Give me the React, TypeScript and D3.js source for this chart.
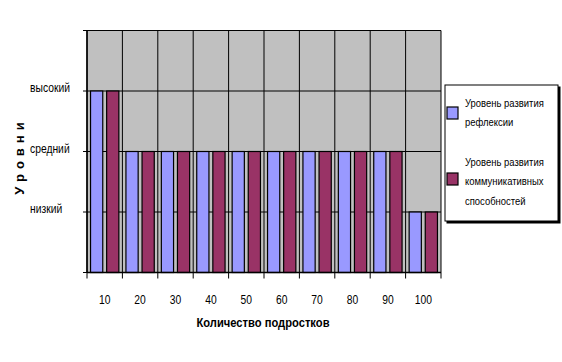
import { useEffect, useRef } from "react";
import * as d3 from "d3";

const categories = ["10", "20", "30", "40", "50", "60", "70", "80", "90", "100"];
const reflexion = [3, 2, 2, 2, 2, 2, 2, 2, 2, 1];
const communication = [3, 2, 2, 2, 2, 2, 2, 2, 2, 1];
const levelTicks = [1, 2, 3];
const levelLabels = ["низкий", "средний", "высокий"];
const legendLines = [
  ["Уровень развития", "рефлексии"],
  ["Уровень развития", "коммуникативных", "способностей"],
];
const seriesColors = ["#9999FF", "#993366"];

const App: React.FC = () => {
  const ref = useRef<SVGSVGElement>(null);

  useEffect(() => {
    const W = 562;
    const H = 362;
    const margin = { top: 30.5, right: 121, bottom: 89.5, left: 87 };
    const width = W - margin.left - margin.right;
    const height = H - margin.top - margin.bottom;
    const font = "'Liberation Sans', Arial, sans-serif";
    const squeeze = 0.86; // the original uses a condensed Arial look

    const svg = d3.select(ref.current).html("");
    const g = svg.append("g").attr("transform", `translate(${margin.left},${margin.top})`);

    // helper: text squeezed horizontally around its anchor point
    const addText = (
      parent: d3.Selection<any, unknown, null, undefined>,
      tx: number,
      ty: number,
      txt: string,
      size: number,
      anchor = "start",
      bold = false
    ) =>
      parent
        .append("text")
        .attr("transform", `translate(${tx},${ty}) scale(${squeeze},1)`)
        .attr("text-anchor", anchor)
        .attr("dy", "0.35em")
        .attr("font-family", font)
        .attr("font-size", size)
        .attr("font-weight", bold ? "bold" : "normal")
        .attr("fill", "#000")
        .text(txt);

    const x = d3.scaleBand().domain(categories).range([0, width]);
    const y = d3.scaleLinear().domain([0, 4]).range([height, 0]);

    // plot background
    g.append("rect")
      .attr("width", width)
      .attr("height", height)
      .attr("fill", "#C0C0C0");

    // horizontal gridlines
    g.selectAll(".hgrid")
      .data([1, 2, 3, 4])
      .enter()
      .append("line")
      .attr("x1", 0)
      .attr("x2", width)
      .attr("y1", (d) => y(d))
      .attr("y2", (d) => y(d))
      .attr("stroke", "#000")
      .attr("stroke-width", 1);

    // vertical gridlines at category boundaries (with ticks below the axis)
    const bounds = categories.map((c) => x(c)!).concat([width]);
    g.selectAll(".vgrid")
      .data(bounds)
      .enter()
      .append("line")
      .attr("x1", (d) => d)
      .attr("x2", (d) => d)
      .attr("y1", 0)
      .attr("y2", height + 6)
      .attr("stroke", "#000")
      .attr("stroke-width", 1);

    // bars
    const bw = x.bandwidth();
    const outer = bw * 0.1;
    const inner = bw * 0.11;
    const barW = (bw - 2 * outer - inner) / 2;
    [reflexion, communication].forEach((vals, si) => {
      g.selectAll(`.bar${si}`)
        .data(vals)
        .enter()
        .append("rect")
        .attr("x", (_d, i) => x(categories[i])! + outer + si * (barW + inner))
        .attr("y", (d) => y(d))
        .attr("width", barW)
        .attr("height", (d) => height - y(d))
        .attr("fill", seriesColors[si])
        .attr("stroke", "#000")
        .attr("stroke-width", 1.2);
    });

    // axis lines + left ticks
    g.append("line")
      .attr("x1", 0)
      .attr("x2", 0)
      .attr("y1", 0)
      .attr("y2", height)
      .attr("stroke", "#000")
      .attr("stroke-width", 1.5);
    g.append("line")
      .attr("x1", 0)
      .attr("x2", width)
      .attr("y1", height)
      .attr("y2", height)
      .attr("stroke", "#000")
      .attr("stroke-width", 1.5);
    g.selectAll(".ytick")
      .data([0, 1, 2, 3, 4])
      .enter()
      .append("line")
      .attr("x1", -4)
      .attr("x2", 0)
      .attr("y1", (d) => y(d))
      .attr("y2", (d) => y(d))
      .attr("stroke", "#000")
      .attr("stroke-width", 1);

    // y level labels (left aligned)
    levelTicks.forEach((d, i) => {
      addText(g, 30 - margin.left, y(d) - 3, levelLabels[i], 12);
    });

    // x category labels
    categories.forEach((c) => {
      addText(g, x(c)! + bw / 2, height + 27, c, 12, "middle");
    });

    // axis titles
    addText(svg, 263, 322, "Количество подростков", 13, "middle", true);
    svg.append("text")
      .attr("transform", "translate(24,156) rotate(-90)")
      .attr("text-anchor", "middle")
      .attr("font-family", font)
      .attr("font-size", 13)
      .attr("font-weight", "bold")
      .attr("letter-spacing", 5)
      .attr("fill", "#000")
      .text("Уровни");

    // legend
    const lg = svg.append("g").attr("transform", "translate(445,85)");
    lg.append("rect")
      .attr("x", 1.5)
      .attr("y", 1.5)
      .attr("width", 114)
      .attr("height", 137)
      .attr("fill", "#000");
    lg.append("rect")
      .attr("width", 113)
      .attr("height", 136)
      .attr("fill", "#fff")
      .attr("stroke", "#000")
      .attr("stroke-width", 1);
    const legendTop = [18, 77];
    const boxTop = [22, 88];
    legendLines.forEach((lines, si) => {
      lg.append("rect")
        .attr("x", 2)
        .attr("y", boxTop[si])
        .attr("width", 11)
        .attr("height", 12)
        .attr("fill", seriesColors[si])
        .attr("stroke", "#000")
        .attr("stroke-width", 1.2);
      lines.forEach((t, li) => {
        addText(lg, 20, legendTop[si] + li * 19.5, t, 11);
      });
    });
  }, []);

  return (
    <svg
      ref={ref}
      width={562}
      height={362}
      style={{ position: "absolute", left: 0, top: 0, background: "#fff" }}
    />
  );
};

export default App;
